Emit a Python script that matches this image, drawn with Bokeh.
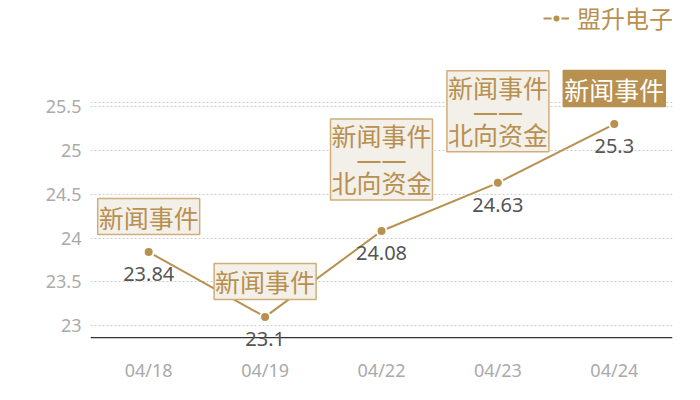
from bokeh.plotting import figure
from bokeh.models import ColumnDataSource, Range1d, FixedTicker, NumeralTickFormatter, FactorRange, Span
from bokeh.core.properties import value
from bokeh.embed import file_html
from bokeh.resources import INLINE

# ---- data ----
dates = ["04/18", "04/19", "04/22", "04/23", "04/24"]
prices = [23.84, 23.1, 24.08, 24.63, 25.3]
events = ["新闻事件", "新闻事件", "新闻事件\n——\n北向资金", "新闻事件\n——\n北向资金", "新闻事件"]
series_name = "盟升电子"
y_ticks = [23, 23.5, 24, 24.5, 25, 25.5]
grid_top = 25.545
axis_base = 22.864
y_start, y_end = 22.728, 26.710

GOLD = "#b8904f"
CJK = "Noto Sans CJK SC"
LAT = "Noto Sans"

p = figure(width=684, height=384, x_range=FactorRange(*dates),
           y_range=Range1d(y_start, y_end), output_backend="svg",
           toolbar_location=None, min_border_left=90, min_border_right=12,
           min_border_top=0, min_border_bottom=32)
p.outline_line_color = None
p.background_fill_color = "white"

# axes
p.xaxis.axis_line_color = None
p.xaxis.major_tick_line_color = None
p.xaxis.major_tick_out = 0
p.xaxis.minor_tick_line_color = None
p.xaxis.major_label_text_color = "#aaaaaa"
p.xaxis.major_label_text_font = LAT
p.xaxis.major_label_text_font_size = "18px"
p.xaxis.major_label_standoff = 8
p.yaxis.axis_line_color = None
p.yaxis.major_tick_line_color = None
p.yaxis.major_tick_out = 0
p.yaxis.minor_tick_line_color = None
p.yaxis.ticker = FixedTicker(ticks=y_ticks)
p.yaxis.formatter = NumeralTickFormatter(format="0.[0]")
p.yaxis.major_label_text_color = "#aaaaaa"
p.yaxis.major_label_text_font = LAT
p.yaxis.major_label_text_font_size = "18px"
p.yaxis.major_label_standoff = 9

p.xgrid.grid_line_color = None
p.ygrid.ticker = FixedTicker(ticks=y_ticks + [grid_top])
p.ygrid.grid_line_color = "#cccccc"
p.ygrid.grid_line_dash = "2 2"
p.ygrid.grid_line_width = 1

# category axis base line
p.add_layout(Span(location=axis_base, dimension="width", line_color="#333333",
                  line_width=1.2, level="underlay"))

src = ColumnDataSource(dict(date=dates, price=prices, label=[str(v) for v in prices]))
p.line("date", "price", source=src, line_color=GOLD, line_width=2, legend_label=series_name)
p.scatter("date", "price", source=src, size=10, fill_color=GOLD, line_color="white",
          line_width=2, legend_label=series_name)

# value labels
p.text("date", "price", text="label", source=src, y_offset=22,
       text_align="center", text_baseline="middle", text_color="#555555",
       text_font=value(LAT), text_font_size="20px")

# event annotations
nl = [e.count("\n") + 1 for e in events]
yoff = [-35.5 - 18 * (n - 1) for n in nl]
last_i = len(events) - 1

def group(idx):
    return ColumnDataSource(dict(date=[dates[i] for i in idx], price=[prices[i] for i in idx],
                                 text=[events[i] for i in idx], yoff=[yoff[i] for i in idx]))

single = group([i for i in range(last_i) if nl[i] == 1])
multi = group([i for i in range(last_i) if nl[i] > 1])
last = group([last_i])

common = dict(text_align="center", text_baseline="middle",
              text_font_size="25px", border_line_width=1.5)
p.text("date", "price", text="text", source=single, y_offset="yoff", text_color=GOLD,
       background_fill_color="#f3efe9", border_line_color="#cfae7a", text_font=value(CJK),
       text_line_height=1.0, padding=(1, 0), **common)
p.text("date", "price", text="text", source=multi, y_offset="yoff", text_color=GOLD,
       background_fill_color="#f3efe9", border_line_color="#cfae7a",
       text_font=value("Noto Sans, Noto Sans CJK SC"),
       text_line_height=0.69, padding=(1, 0), **common)
p.text("date", "price", text="text", source=last, y_offset="yoff", text_color="white",
       background_fill_color=GOLD, border_line_color=GOLD, text_font=value(CJK),
       text_line_height=1.0, padding=(1, 0), **common)

# legend
lg = p.legend[0]
lg.location = (453, 314)
lg.border_line_color = None
lg.background_fill_alpha = 0
lg.padding = 0
lg.margin = 0
lg.glyph_width = 26
lg.label_standoff = 8
lg.label_text_color = GOLD
lg.label_text_font = CJK
lg.label_text_font_size = "24px"

open("out.html", "w").write(file_html(p, INLINE))
